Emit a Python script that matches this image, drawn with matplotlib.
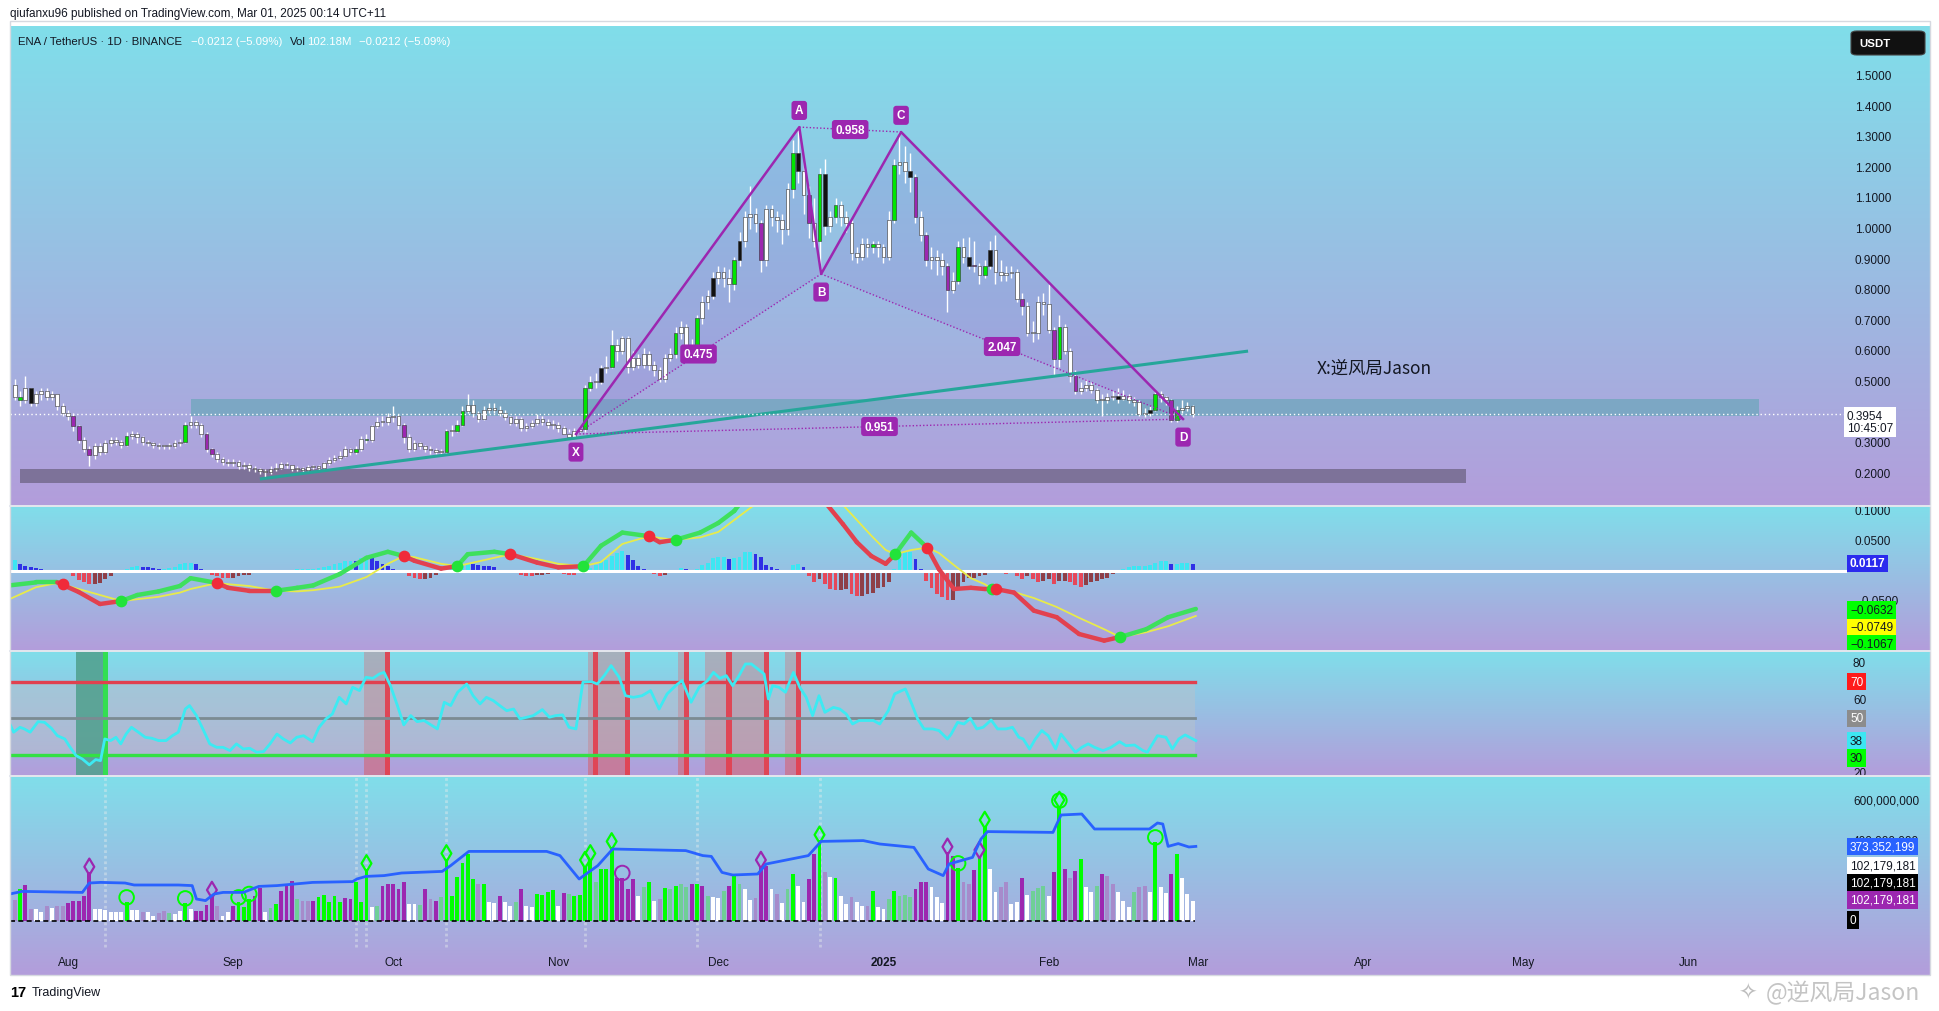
import numpy as np
import matplotlib.pyplot as plt
from matplotlib.collections import LineCollection
from matplotlib.colors import LinearSegmentedColormap
from matplotlib.patches import Rectangle, Polygon, FancyBboxPatch

plt.rcParams['font.family'] = ['Liberation Sans', 'DejaVu Sans']
CJK = ['Noto Sans CJK SC', 'DejaVu Sans']

# ---- daily candles, day 0 = 2024-08-01 ----
first_day = -10
first_open = 0.49
close = [0.45, 0.44, 0.48, 0.43, 0.46, 0.47, 0.45, 0.46, 0.42, 0.40,
         0.39, 0.355, 0.31, 0.28, 0.26, 0.29, 0.27, 0.30, 0.31, 0.305,
         0.295, 0.325, 0.33, 0.32, 0.305, 0.30, 0.295, 0.29, 0.29, 0.29,
         0.30, 0.305, 0.36, 0.37, 0.36, 0.33, 0.28, 0.265, 0.25, 0.24,
         0.235, 0.24, 0.225, 0.23, 0.22, 0.215, 0.21, 0.205, 0.215, 0.22,
         0.232, 0.228, 0.215, 0.218, 0.213, 0.222, 0.222, 0.22, 0.235, 0.245,
         0.252, 0.258, 0.28, 0.27, 0.28, 0.315, 0.31, 0.355, 0.37, 0.37,
         0.385, 0.39, 0.36, 0.32, 0.28, 0.30, 0.29, 0.28, 0.278, 0.272,
         0.27, 0.34, 0.34, 0.36, 0.405, 0.425, 0.40, 0.38, 0.41, 0.415,
         0.41, 0.40, 0.385, 0.365, 0.38, 0.35, 0.355, 0.365, 0.38, 0.37,
         0.36, 0.36, 0.35, 0.33, 0.32, 0.34, 0.345, 0.48, 0.50, 0.50,
         0.545, 0.55, 0.62, 0.60, 0.645, 0.55, 0.58, 0.555, 0.59, 0.555,
         0.54, 0.51, 0.58, 0.59, 0.66, 0.68, 0.62, 0.59, 0.71, 0.76,
         0.78, 0.84, 0.86, 0.84, 0.82, 0.90, 0.96, 1.04, 1.05, 1.02,
         0.90, 1.065, 1.04, 1.03, 1.00, 1.13, 1.25, 1.19, 1.11, 1.02,
         0.96, 1.18, 1.01, 1.04, 1.08, 1.04, 1.02, 0.92, 0.91, 0.95,
         0.94, 0.95, 0.94, 0.91, 1.03, 1.21, 1.22, 1.19, 1.17, 1.04,
         0.98, 0.90, 0.91, 0.90, 0.88, 0.80, 0.83, 0.94, 0.91, 0.88,
         0.88, 0.85, 0.88, 0.93, 0.86, 0.85, 0.855, 0.86, 0.77, 0.75,
         0.66, 0.66, 0.76, 0.755, 0.67, 0.575, 0.68, 0.60, 0.52, 0.47,
         0.48, 0.49, 0.475, 0.44, 0.44, 0.45, 0.455, 0.445, 0.455, 0.44,
         0.435, 0.395, 0.40, 0.41, 0.46, 0.45, 0.44, 0.375, 0.41, 0.415, 0.42, 0.3954]
high = [0.51, 0.47, 0.52, 0.48, 0.47, 0.48, 0.48, 0.47, 0.46, 0.43,
        0.41, 0.40, 0.36, 0.32, 0.29, 0.30, 0.30, 0.31, 0.32, 0.32,
        0.31, 0.335, 0.34, 0.335, 0.325, 0.31, 0.305, 0.30, 0.295, 0.30,
        0.31, 0.315, 0.37, 0.39, 0.375, 0.365, 0.335, 0.285, 0.27, 0.255,
        0.25, 0.25, 0.245, 0.24, 0.235, 0.225, 0.22, 0.215, 0.225, 0.235,
        0.24, 0.24, 0.23, 0.225, 0.222, 0.228, 0.23, 0.228, 0.24, 0.255,
        0.26, 0.275, 0.29, 0.285, 0.29, 0.325, 0.33, 0.36, 0.385, 0.39,
        0.40, 0.42, 0.395, 0.365, 0.33, 0.31, 0.305, 0.295, 0.29, 0.285,
        0.28, 0.345, 0.36, 0.375, 0.42, 0.46, 0.44, 0.405, 0.42, 0.43,
        0.43, 0.42, 0.41, 0.39, 0.39, 0.385, 0.365, 0.375, 0.395, 0.39,
        0.38, 0.375, 0.37, 0.355, 0.345, 0.35, 0.355, 0.49, 0.52, 0.53,
        0.555, 0.585, 0.67, 0.64, 0.65, 0.65, 0.60, 0.59, 0.61, 0.60,
        0.57, 0.55, 0.59, 0.61, 0.68, 0.70, 0.69, 0.64, 0.72, 0.78,
        0.80, 0.86, 0.88, 0.875, 0.87, 0.91, 0.99, 1.06, 1.14, 1.07,
        1.03, 1.08, 1.08, 1.06, 1.05, 1.15, 1.29, 1.333, 1.22, 1.14,
        1.10, 1.20, 1.23, 1.06, 1.10, 1.09, 1.06, 1.03, 0.94, 0.97,
        0.97, 0.96, 0.96, 0.95, 1.06, 1.23, 1.317, 1.27, 1.25, 1.18,
        1.06, 0.99, 0.94, 0.93, 0.92, 0.89, 0.86, 0.96, 0.97, 0.975,
        0.96, 0.89, 0.90, 0.96, 0.98, 0.90, 0.88, 0.88, 0.87, 0.79,
        0.76, 0.70, 0.78, 0.79, 0.82, 0.68, 0.72, 0.69, 0.61, 0.54,
        0.50, 0.51, 0.50, 0.48, 0.46, 0.465, 0.47, 0.48, 0.475, 0.46,
        0.45, 0.44, 0.415, 0.42, 0.47, 0.47, 0.455, 0.445, 0.42, 0.44, 0.435, 0.425]
low = [0.44, 0.42, 0.43, 0.42, 0.42, 0.44, 0.44, 0.44, 0.41, 0.39,
       0.375, 0.34, 0.30, 0.27, 0.225, 0.25, 0.26, 0.265, 0.29, 0.295,
       0.285, 0.29, 0.315, 0.30, 0.295, 0.29, 0.285, 0.28, 0.28, 0.28,
       0.285, 0.29, 0.30, 0.35, 0.35, 0.32, 0.27, 0.255, 0.24, 0.23,
       0.225, 0.225, 0.215, 0.215, 0.21, 0.205, 0.20, 0.19, 0.20, 0.21,
       0.215, 0.22, 0.21, 0.21, 0.205, 0.21, 0.215, 0.21, 0.215, 0.23,
       0.24, 0.245, 0.255, 0.26, 0.265, 0.275, 0.30, 0.305, 0.35, 0.355,
       0.36, 0.37, 0.345, 0.30, 0.27, 0.275, 0.28, 0.27, 0.265, 0.265,
       0.26, 0.265, 0.325, 0.335, 0.355, 0.40, 0.385, 0.37, 0.375, 0.40,
       0.40, 0.39, 0.375, 0.36, 0.355, 0.34, 0.34, 0.35, 0.36, 0.36,
       0.35, 0.345, 0.335, 0.33, 0.335, 0.33, 0.335, 0.335, 0.47, 0.48,
       0.495, 0.53, 0.545, 0.57, 0.59, 0.53, 0.54, 0.545, 0.545, 0.54,
       0.52, 0.50, 0.50, 0.57, 0.58, 0.64, 0.61, 0.58, 0.58, 0.69,
       0.74, 0.77, 0.82, 0.81, 0.76, 0.80, 0.88, 0.94, 1.00, 0.99,
       0.86, 0.88, 1.01, 0.99, 0.95, 0.98, 1.10, 1.15, 1.05, 0.97,
       0.94, 0.853, 0.98, 0.99, 1.02, 1.01, 0.99, 0.90, 0.89, 0.90,
       0.91, 0.92, 0.91, 0.89, 0.90, 1.02, 1.18, 1.15, 1.12, 1.02,
       0.96, 0.88, 0.87, 0.85, 0.85, 0.73, 0.79, 0.82, 0.89, 0.87,
       0.86, 0.82, 0.84, 0.87, 0.82, 0.83, 0.83, 0.84, 0.76, 0.72,
       0.65, 0.63, 0.64, 0.72, 0.66, 0.52, 0.55, 0.59, 0.50, 0.46,
       0.46, 0.47, 0.465, 0.43, 0.39, 0.43, 0.44, 0.43, 0.44, 0.43,
       0.42, 0.39, 0.385, 0.39, 0.405, 0.435, 0.425, 0.37, 0.37, 0.40, 0.405, 0.385]
candle_green_days = [-9, 11, 22, 54, 56, 71, 73, 74, 97, 98, 102, 114, 118, 125, 136,
                     141, 144, 151, 155, 167, 172, 186, 204, 208]
candle_purple_days = [1, 2, 4, 26, 27, 63, 130, 139, 159, 161, 165, 170, 179, 185, 189, 207]
candle_black_days = [-7, 100, 121, 126, 137, 142, 158, 169, 173, 197, 203]

# volume in millions and bar class (g green, p purple, w white, G pale green, P pale purple)
volume = [105, 160, 180, 60, 60, 45, 75, 65, 75, 75,
          90, 100, 100, 125, 243, 60, 60, 55, 43, 43,
          43, 93, 55, 55, 43, 43, 27, 40, 48, 40,
          35, 48, 88, 58, 52, 52, 78, 127, 77, 27,
          43, 77, 93, 68, 110, 127, 163, 43, 63, 85,
          150, 183, 200, 110, 102, 102, 102, 118, 130, 93,
          123, 93, 113, 110, 197, 93, 260, 68, 77, 177,
          185, 185, 160, 197, 85, 85, 80, 160, 110, 102,
          118, 310, 127, 218, 290, 335, 210, 185, 185, 93,
          88, 127, 93, 77, 93, 160, 77, 68, 135, 130,
          143, 157, 77, 140, 135, 127, 130, 277, 310, 193,
          260, 260, 370, 215, 215, 160, 210, 127, 168, 197,
          102, 112, 163, 160, 177, 185, 168, 185, 185, 177,
          127, 118, 113, 152, 177, 230, 185, 160, 107, 113,
          277, 277, 160, 135, 88, 160, 235, 177, 93, 210,
          335, 403, 243, 218, 213, 127, 85, 118, 93, 77,
          77, 152, 68, 60, 110, 152, 127, 130, 118, 160,
          193, 197, 168, 118, 90, 343, 327, 263, 193, 185,
          255, 327, 477, 260, 147, 168, 193, 85, 93, 213,
          130, 152, 163, 177, 123, 247, 577, 260, 213, 252,
          310, 168, 143, 177, 235, 227, 185, 143, 102, 68,
          143, 168, 173, 143, 393, 168, 140, 235, 335, 213, 135, 102]
vol_class = ("PgpPwwPwPP" "pppppwwwww" "wgwwPwwPPG" "wwgwppppPw"
             "wpgggppwGg" "pppGPPpggg" "ggppgggwGp" "ppppwwGpPp" "GggggggPgw"
             "wpwwGpwwgg" "ggwpGggggG" "gggppppwGg" "wPgGgGGpgp" "GwwGpgGwwP"
             "ppwPwGgwwp" "pgPwgwwPww" "PgwwGgGGGp" "ppwwwppgPP" "pggwwPPwwp"
             "wGGGwpgpPp" "gwwGpPPwww" "GPPwgwwpgw" "ww")
vol_diamond_green = [56, 71, 97, 98, 102, 141, 172, 186]
vol_diamond_purple = [4, 27, 130, 165, 171]
vol_circle_green = [11, 22, 32, 34, 167, 186, 204]
vol_circle_purple = [104]
vol_ma_pts = [(-10.9, 135), (-8.6, 148), (2.7, 143), (4.0, 190), (6.1, 193), (10.7, 190),
              (12.4, 180), (20.7, 180), (23.3, 177), (24.1, 110), (25.8, 102), (27.4, 135),
              (29.1, 143), (32.9, 143), (35.8, 173), (39.2, 177), (45.9, 193), (53.4, 197),
              (54.2, 210), (55.9, 223), (59.3, 227), (62.6, 240), (70.2, 248), (71.8, 277),
              (75.2, 348), (79.4, 348), (89.8, 348), (92.3, 327), (95.9, 210), (99.4, 277),
              (102.2, 360), (115.9, 352), (119.1, 327), (120.7, 323), (122.7, 243), (124.7, 230),
              (129.4, 235), (131.0, 285), (138.9, 327), (141.3, 398), (149.2, 402), (152.3, 385),
              (158.7, 368), (161.4, 260), (164.2, 227), (165.3, 285), (169.7, 318), (171.3, 410),
              (172.5, 447), (184.8, 443), (186.3, 530), (190.2, 535), (192.6, 460), (202.9, 460),
              (204.4, 490), (205.4, 485), (206.4, 373), (208.3, 387), (210.3, 370), (211.6, 373)]
vol_guides = [7, 54, 56, 71, 97, 118, 141]

# MACD: (day, macd, signal) and daily histogram
macd_pts = [(-11, -0.024, -0.047), (-6, -0.019, -0.027), (-2, -0.019, -0.020), (2, -0.035, -0.030),
            (6, -0.055, -0.040), (10, -0.050, -0.050), (13, -0.040, -0.047), (17, -0.034, -0.043),
            (21, -0.025, -0.036), (23, -0.012, -0.030), (28, -0.020, -0.020), (30, -0.028, -0.022),
            (34, -0.033, -0.025), (39, -0.033, -0.033), (43, -0.028, -0.034), (46, -0.024, -0.032),
            (51, -0.005, -0.026), (56, 0.022, -0.010), (60, 0.032, 0.012), (63, 0.025, 0.025),
            (65, 0.017, 0.023), (70, 0.004, 0.012), (73, 0.008, 0.008), (75, 0.028, 0.012),
            (80, 0.032, 0.022), (83, 0.028, 0.028), (88, 0.014, 0.020), (92, 0.006, 0.012),
            (96.7, 0.008, 0.008), (100, 0.042, 0.015), (104, 0.064, 0.045), (109, 0.058, 0.058),
            (111, 0.048, 0.055), (114, 0.052, 0.052), (118.6, 0.064, 0.056), (122, 0.080, 0.065),
            (125, 0.100, 0.085), (128, 0.135, 0.105), (132, 0.17, 0.13), (136, 0.18, 0.15),
            (139, 0.155, 0.155), (142, 0.115, 0.14), (145.4, 0.078, 0.11), (148, 0.048, 0.085),
            (150.7, 0.025, 0.059), (153.4, 0.012, 0.035), (155.2, 0.028, 0.028), (158.2, 0.064, 0.035),
            (161.2, 0.039, 0.039), (163.4, 0.003, 0.030), (166.2, -0.030, 0.010), (169.4, -0.028, -0.012),
            (172, -0.030, -0.022), (173.4, -0.030, -0.030), (174.1, -0.030, -0.030), (177.5, -0.036, -0.035),
            (181.2, -0.066, -0.045), (185.5, -0.077, -0.060), (189.7, -0.105, -0.078), (194.4, -0.116, -0.097),
            (197.4, -0.110, -0.110), (202.3, -0.097, -0.102), (206.4, -0.077, -0.092), (211.6, -0.0632, -0.0749)]
macd_cross_up = [(10, -0.050), (39, -0.033), (73, 0.008), (96.7, 0.008), (114, 0.052),
                 (155.2, 0.028), (173.4, -0.030), (197.4, -0.110)]
macd_cross_down = [(-1, -0.021), (28, -0.020), (63, 0.025), (83, 0.028), (109, 0.058),
                   (161.2, 0.039), (174.1, -0.030)]
hist = [0.019, 0.012, 0.008, 0.006, 0.005, 0.004, 0.002, 0.0, -0.001, -0.003,
        -0.004, -0.008, -0.015, -0.019, -0.022, -0.022, -0.020, -0.014, -0.008, -0.003,
        0.002, 0.004, 0.006, 0.008, 0.007, 0.006, 0.005, 0.004, 0.004, 0.005,
        0.007, 0.012, 0.014, 0.014, 0.012, 0.004, -0.003, -0.006, -0.008, -0.011,
        -0.012, -0.011, -0.009, -0.007, -0.006, -0.004, -0.003, -0.002, 0.001, 0.001,
        0.002, 0.002, 0.002, 0.003, 0.003, 0.003, 0.004, 0.005, 0.006, 0.008,
        0.011, 0.014, 0.016, 0.017, 0.016, 0.021, 0.022, 0.021, 0.017, 0.012,
        0.009, 0.004, 0.001, -0.003, -0.008, -0.012, -0.014, -0.014, -0.012, -0.006,
        -0.003, -0.001, 0.005, 0.009, 0.012, 0.013, 0.012, 0.010, 0.009, 0.008,
        0.006, 0.002, -0.002, -0.003, -0.004, -0.006, -0.008, -0.009, -0.007, -0.006,
        -0.005, -0.004, -0.004, -0.005, -0.006, -0.007, -0.004, 0.002, 0.005, 0.010,
        0.016, 0.018, 0.025, 0.030, 0.033, 0.027, 0.019, 0.009, 0.003, -0.002,
        -0.005, -0.009, -0.007, -0.003, 0.002, 0.005, 0.004, 0.002, 0.003, 0.010,
        0.014, 0.021, 0.023, 0.023, 0.020, 0.021, 0.024, 0.031, 0.031, 0.028,
        0.023, 0.010, 0.006, 0.003, -0.003, 0.0, 0.010, 0.011, 0.006, -0.008,
        -0.019, -0.013, -0.022, -0.030, -0.032, -0.031, -0.030, -0.038, -0.042, -0.041,
        -0.038, -0.036, -0.029, -0.026, -0.018, 0.003, 0.020, 0.031, 0.032, 0.020,
        0.003, -0.016, -0.029, -0.038, -0.044, -0.049, -0.048, -0.030, -0.019, -0.012,
        -0.011, -0.009, -0.007, -0.001, -0.002, -0.003, -0.005, -0.003, -0.009, -0.013,
        -0.009, -0.013, -0.019, -0.016, -0.014, -0.022, -0.016, -0.016, -0.018, -0.024,
        -0.026, -0.023, -0.019, -0.016, -0.013, -0.011, -0.005, 0.0, 0.003, 0.006,
        0.009, 0.009, 0.009, 0.010, 0.013, 0.016, 0.016, 0.012, 0.012, 0.013, 0.014, 0.0117]

# RSI nodes (day, value) and highlight bands (first day, last day)
rsi_pts = [(-10.9, 46.8), (-10.2, 42.3), (-9, 45.0), (-8.2, 44.1), (-7.1, 42.3), (-5.6, 48.1), (-4.4, 47.7),
           (-3.1, 44.4), (-2, 40.4), (-0.6, 38.6), (0.2, 34.9), (1.5, 29.5), (2.7, 27.6), (4, 24.4),
           (5.2, 27.3), (6.1, 26.7), (6.9, 38.6), (8, 37.7), (9, 39.5), (9.9, 35.9), (10.9, 41.3),
           (11.9, 45.0), (13.2, 42.3), (14.5, 39.5), (15.7, 39.0), (17, 37.7), (18.4, 37.7), (19.6, 40.4),
           (20.7, 42.3), (22, 55.0), (22.8, 56.9), (24.1, 51.4), (25.3, 44.1), (26.6, 35.9), (27.9, 34.0),
           (29.1, 34.0), (30.4, 32.2), (31.6, 35.9), (32.9, 33.1), (34.1, 33.5), (35.4, 31.3), (36.7, 31.7),
           (37.9, 35.9), (39.2, 41.3), (40.4, 38.6), (41.7, 36.4), (42.9, 39.5), (44.2, 40.4), (45.9, 37.1),
           (47.1, 45.0), (48.4, 49.6), (49.6, 52.3), (50.9, 61.4), (52.2, 57.8), (53.4, 66.9), (54.7, 65.1),
           (55.9, 72.4), (57.2, 71.8), (58.4, 74.2), (59.3, 75.1), (60.5, 67.8), (61.8, 56.9), (63, 46.3),
           (64.3, 51.4), (65.5, 48.1), (66.8, 48.7), (68.1, 46.3), (69.3, 44.1), (70.6, 58.7), (71.8, 56.9),
           (73.1, 64.2), (74.8, 68.7), (76, 62.3), (77.3, 57.8), (78.5, 61.4), (79.8, 59.6), (81, 56.9),
           (82.3, 54.1), (83.6, 55.0), (84.8, 49.6), (86.1, 50.5), (87.3, 51.4), (89, 54.7), (90.3, 50.5),
           (91.5, 51.4), (92.8, 51.8), (94, 45.0), (95.3, 44.1), (96.6, 69.7), (98.2, 70.0), (99.3, 68.7),
           (100.6, 73.3), (101.9, 78.8), (103.4, 72.4), (104.6, 62.3), (106.1, 61.4), (107.7, 62.3),
           (109.3, 65.1), (110.9, 55.0), (112.4, 63.3), (114, 67.8), (115.2, 70.6), (116.9, 58.7),
           (118.4, 66.9), (120, 70.6), (121.1, 75.1), (122.3, 71.8), (123.5, 73.3), (124.7, 67.8),
           (125.9, 73.3), (127.1, 79.7), (128.2, 79.7), (129.4, 77.0), (130.6, 74.2), (131.4, 60.5),
           (132.2, 67.8), (133.4, 66.9), (134.6, 64.2), (136.1, 75.1), (137.3, 66.9), (138.5, 61.4),
           (139.7, 51.4), (140.9, 62.3), (142, 53.2), (143.6, 55.9), (144.8, 55.0), (146, 52.3),
           (147.2, 46.8), (148.4, 48.7), (149.9, 48.7), (151.1, 48.7), (152.3, 46.8), (153.9, 54.1),
           (155.1, 63.3), (157.1, 66.0), (158.3, 57.8), (159.4, 49.6), (160.6, 44.1), (162.2, 44.1),
           (163.4, 43.2), (165, 38.6), (165.7, 41.3), (166.9, 47.7), (168.1, 46.8), (169.3, 49.9),
           (170.5, 44.1), (171.7, 45.0), (173.2, 49.0), (174.4, 44.1), (176, 44.1), (177.2, 45.0),
           (178.4, 39.5), (179.2, 38.6), (180.4, 33.1), (181.5, 38.6), (182.7, 43.2), (183.9, 40.4),
           (185.3, 33.1), (186.3, 41.3), (187.5, 36.8), (189, 31.3), (190.2, 34.0), (191.4, 35.9),
           (192.6, 34.0), (194.2, 32.2), (195.7, 34.0), (197.3, 37.1), (198.5, 34.9), (200.1, 35.3),
           (201.7, 32.2), (202.5, 31.3), (204.4, 40.4), (206, 39.5), (207.2, 33.1), (208.4, 38.6),
           (209.6, 40.8), (211.6, 37.7)]
rsi_os_bands = [(2, 7)]
rsi_ob_bands = [(56, 60), (98, 99), (100, 105), (115, 116), (120, 124), (125, 131), (135, 137)]

# harmonic pattern, trend line, zones
pattern_names = ['X', 'A', 'B', 'C', 'D']
pattern_days = [95.3, 137.2, 141.3, 156.3, 209.2]
pattern_prices = [0.330, 1.333, 0.853, 1.317, 0.379]
pattern_ratios = [('X', 'B', '0.475'), ('A', 'C', '0.958'), ('B', 'D', '2.047'), ('X', 'D', '0.951')]
trend_days = [36.0, 221.4]
trend_prices = [0.183, 0.601]
zone_resist = (23.1, 317.3, 0.388, 0.445)
zone_support = (-9.0, 262.3, 0.170, 0.216)
last_price = 0.3954

price_ticks = [1.5, 1.4, 1.3, 1.2, 1.1, 1.0, 0.9, 0.8, 0.7, 0.6, 0.5, 0.3, 0.2]
month_days = [0, 31, 61, 92, 122, 153, 184, 212, 243, 273, 304]
month_labels = ['Aug', 'Sep', 'Oct', 'Nov', 'Dec', '2025', 'Feb', 'Mar', 'Apr', 'May', 'Jun']

# ---------------- layout ----------------
W, H = 1940, 1012
X0, X1 = 10, 1930
PX_DAY, DAY0_PX = 5.33, 68
XMIN = (X0 - DAY0_PX) / PX_DAY
XMAX = (X1 - DAY0_PX) / PX_DAY
TXT = '#131722'
bg_cmap = LinearSegmentedColormap.from_list('bg', ['#80DEEA', '#B39DDB'])

fig = plt.figure(figsize=(W / 100, H / 100), dpi=100)
fig.patch.set_facecolor('white')


def fx(px):
    return (px - X0) / (X1 - X0)


def panel(top, bottom, ylim):
    ax = fig.add_axes([X0 / W, 1 - bottom / H, (X1 - X0) / W, (bottom - top) / H])
    ax.imshow(np.linspace(0, 1, 256).reshape(-1, 1), extent=[0, 1, 0, 1], transform=ax.transAxes,
              aspect='auto', cmap=bg_cmap, zorder=0)
    ax.set_xlim(XMIN, XMAX)
    ax.set_ylim(*ylim)
    ax.axis('off')
    return ax


def scale_label(ax, y, s, fc=None, color=TXT, bold=False, x=1853):
    kw = dict(transform=ax.get_yaxis_transform(), va='center', ha='left', fontsize=8.5,
              color=color, clip_on=True, zorder=20)
    if bold:
        kw['fontweight'] = 'bold'
    if fc is not None:
        kw['bbox'] = dict(boxstyle='square,pad=0.22', fc=fc, ec='none')
    return ax.text(fx(x), y, s, **kw)


ax_p = panel(27, 507, (0.0948, 1.6634))
ax_m = panel(507, 652, (-0.1333, 0.1083))
ax_r = panel(652, 777, (18.3, 86.8))
ax_v = panel(777, 976, (-270, 725))

days = np.arange(first_day, first_day + len(close))
close_a = np.array(close)
open_a = np.concatenate([[first_open], close_a[:-1]])

# ---------------- price panel ----------------
d0, d1, p0, p1 = zone_support
ax_p.add_patch(Rectangle((d0, p0), d1 - d0, p1 - p0, fc='#7D7299', ec='none', zorder=1))
d0, d1, p0, p1 = zone_resist
ax_p.add_patch(Rectangle((d0, p0), d1 - d0, p1 - p0, fc='#78A7C2', ec='none', alpha=0.9, zorder=1))

pt = dict(zip(pattern_names, zip(pattern_days, pattern_prices)))
for tri in (['X', 'A', 'B'], ['B', 'C', 'D']):
    ax_p.add_patch(Polygon([pt[n] for n in tri], closed=True, fc='#8A6FD0', ec='none', alpha=0.18, zorder=2))

body_col = []
for d in days:
    if d in candle_green_days:
        body_col.append('#00E600')
    elif d in candle_purple_days:
        body_col.append('#9C27B0')
    elif d in candle_black_days:
        body_col.append('#111111')
    else:
        body_col.append('#FFFFFF')
ax_p.vlines(days, low, high, color='white', lw=1.0, zorder=4)
body_lo = np.minimum(open_a, close_a)
body_h = np.maximum(np.abs(close_a - open_a), 0.004)
ax_p.bar(days, body_h, bottom=body_lo, width=0.7, color=body_col, edgecolor='#333333',
         linewidth=0.4, zorder=5)

ax_p.plot(trend_days, trend_prices, color='#26A69A', lw=2.2, zorder=6, solid_capstyle='butt')

order = ['X', 'A', 'B', 'C', 'D']
ax_p.plot([pt[n][0] for n in order], [pt[n][1] for n in order], color='#9C27B0', lw=1.8, zorder=7)
purple_box = dict(boxstyle='round,pad=0.3,rounding_size=0.25', fc='#9C27B0', ec='none')
for a, b, txt in pattern_ratios:
    (da, pa), (db, pb) = pt[a], pt[b]
    ax_p.plot([da, db], [pa, pb], color='#9C27B0', lw=1.0, ls=(0, (1, 1.5)), zorder=7)
    ax_p.text((da + db) / 2, (pa + pb) / 2, txt, ha='center', va='center', fontsize=8.5,
              color='white', fontweight='bold', bbox=purple_box, zorder=9)
for n, (d, p) in pt.items():
    off = 12 if n in ('A', 'C') else -13
    ax_p.annotate(n, (d, p), xytext=(0, off), textcoords='offset points', ha='center', va='center',
                  fontsize=8.5, color='white', fontweight='bold', bbox=purple_box, zorder=9)

ax_p.axhline(last_price, xmin=0, xmax=fx(1847), color='white', lw=1.0, ls=(0, (1, 2)), zorder=6)
ax_p.text(245, 0.546, 'X:逆风局Jason', family=CJK, fontsize=12.5, color=TXT, ha='center', va='center',
          zorder=9)

for v in price_ticks:
    scale_label(ax_p, v, f'{v:.4f}', x=1855)
ax_p.text(fx(1847), 0.3695, f'{last_price:.4f}\n10:45:07', transform=ax_p.get_yaxis_transform(),
          va='center', ha='left', fontsize=8.5, color=TXT, linespacing=1.05, zorder=21,
          bbox=dict(boxstyle='square,pad=0.25', fc='white', ec='none'))

# ---------------- MACD panel ----------------
hist_a = np.array(hist)
prev = np.concatenate([[hist_a[0]], hist_a[:-1]])
hcol = []
for h, p in zip(hist_a, prev):
    if h >= 0:
        hcol.append('#3DE6F2' if h >= p else '#2F2FE6')
    else:
        hcol.append('#E5485A' if h < p else '#8E3F48')
ax_m.bar(days, hist_a, width=0.72, color=hcol, zorder=3)
ax_m.axhline(0, xmin=0, xmax=fx(1845), color='white', lw=2.2, zorder=4)

md = np.array([p[0] for p in macd_pts])
mv = np.array([p[1] for p in macd_pts])
sv = np.array([p[2] for p in macd_pts])
ax_m.plot(md, sv, color='#E8EB4A', lw=1.3, zorder=5)
segs = [[(md[i], mv[i]), (md[i + 1], mv[i + 1])] for i in range(len(md) - 1)]
scol = ['#3EE05C' if (mv[i] - sv[i]) + (mv[i + 1] - sv[i + 1]) > 0 else '#E2414F' for i in range(len(md) - 1)]
ax_m.add_collection(LineCollection(segs, colors=scol, linewidths=3.2, capstyle='round', zorder=6))
ax_m.scatter([c[0] for c in macd_cross_up], [c[1] for c in macd_cross_up], s=55, color='#22E33A', zorder=7)
ax_m.scatter([c[0] for c in macd_cross_down], [c[1] for c in macd_cross_down], s=55, color='#F02B3A', zorder=7)

for v, s in [(0.1, '0.1000'), (0.05, '0.0500'), (-0.05, '\u22120.0500')]:
    scale_label(ax_m, v, s, x=1855)
scale_label(ax_m, 0.0125, '0.0117', fc='#2B2BEE', color='white', bold=True, x=1850)
scale_label(ax_m, -0.065, '\u22120.0632', fc='#00FF00', x=1850)
scale_label(ax_m, -0.0935, '\u22120.0749', fc='#FFFF00', x=1850)
scale_label(ax_m, -0.121, '\u22120.1067', fc='#00FF00', x=1850)

# ---------------- RSI panel ----------------
end_d = days[-1] + 0.5
ax_r.fill_between([XMIN, end_d], 30, 70, color='#B7C3CC', alpha=0.5, zorder=1, lw=0)
for a, b in rsi_ob_bands:
    ax_r.axvspan(a - 0.5, b - 0.5, color='#C48C98', alpha=0.55, zorder=2, lw=0)
    ax_r.fill_between([a - 0.5, b - 0.5], 18.3, 30, color='#D35F80', alpha=0.45, zorder=2, lw=0)
    ax_r.axvspan(b - 0.5, b + 0.5, color='#E2404F', alpha=0.95, zorder=2, lw=0)
for a, b in rsi_os_bands:
    ax_r.axvspan(a - 0.5, b - 0.5, color='#4F9F8C', alpha=0.85, zorder=2, lw=0)
    ax_r.axvspan(b - 0.5, b + 0.5, color='#2EE04A', alpha=0.95, zorder=2, lw=0)
ax_r.plot([XMIN, end_d], [70, 70], color='#E0414F', lw=2.4, zorder=3)
ax_r.plot([XMIN, end_d], [50, 50], color='#7C8B92', lw=2.0, zorder=3)
ax_r.plot([XMIN, end_d], [30, 30], color='#33E044', lw=2.4, zorder=3)
ax_r.plot([p[0] for p in rsi_pts], [p[1] for p in rsi_pts], color='#3DEAF2', lw=2.0, zorder=4)

for v in (80, 60, 20):
    scale_label(ax_r, v, str(v), x=1853)
scale_label(ax_r, 70, '70', fc='#FF1A1A', color='white', x=1850)
scale_label(ax_r, 50, '50', fc='#8C8C8C', color='white', x=1850)
scale_label(ax_r, 37.5, '38', fc='#3DE6F2', x=1850)
scale_label(ax_r, 28.2, '30', fc='#00FF00', x=1850)

# ---------------- volume panel ----------------
for g in vol_guides:
    ax_v.plot([g, g], [-130, 725], color='#E6ECEC', lw=2.0, ls=(0, (1, 1)), alpha=0.45, zorder=1)
vcol_map = {'g': '#00FF00', 'p': '#9C27B0', 'w': '#FFFFFF', 'G': '#6FCF97', 'P': '#A68BCB'}
ax_v.bar(days, volume, width=0.72, color=[vcol_map[c] for c in vol_class], zorder=3)
vol_a = dict(zip(days, volume))
ax_v.scatter(vol_diamond_green, [vol_a[d] + 28 for d in vol_diamond_green], marker='d', s=70,
             facecolors='none', edgecolors='#00FF00', linewidths=1.6, zorder=5)
ax_v.scatter(vol_diamond_purple, [vol_a[d] + 28 for d in vol_diamond_purple], marker='d', s=70,
             facecolors='none', edgecolors='#9C27B0', linewidths=1.6, zorder=5)
ax_v.scatter(vol_circle_green, [vol_a[d] + 25 for d in vol_circle_green], marker='o', s=110,
             facecolors='none', edgecolors='#00FF00', linewidths=1.4, zorder=5)
ax_v.scatter(vol_circle_purple, [vol_a[d] + 25 for d in vol_circle_purple], marker='o', s=110,
             facecolors='none', edgecolors='#9C27B0', linewidths=1.4, zorder=5)
ax_v.plot([p[0] for p in vol_ma_pts], [p[1] for p in vol_ma_pts], color='#2962FF', lw=2.0, zorder=6)
ax_v.plot([XMIN, end_d], [0, 0], color='black', lw=1.2, ls=(0, (3, 2)), zorder=6)

scale_label(ax_v, 600, '600,000,000', x=1853)
t400 = scale_label(ax_v, 400, '400,000,000', x=1853)
# only the top sliver of this label peeks out above the value boxes
t400.set_clip_path(Rectangle((fx(1840), 386), 0.1, 60, transform=ax_v.get_yaxis_transform()))
scale_label(ax_v, 373, '373,352,199', fc='#2962FF', color='white', x=1850)
scale_label(ax_v, 277, '102,179,181', fc='white', x=1850)
scale_label(ax_v, 190, '102,179,181', fc='black', color='white', x=1850)
scale_label(ax_v, 105, '102,179,181', fc='#9C27B0', color='white', x=1850)
scale_label(ax_v, 5, '0', fc='black', color='white', x=1850)

for d, s in zip(month_days, month_labels):
    ax_v.text(d, -205, s, ha='center', va='center', fontsize=8.5, color=TXT,
              fontweight='bold' if s == '2025' else 'normal', zorder=10)

# ---------------- frame, separators, header ----------------
for y in (507, 652, 777):
    fig.add_artist(plt.Line2D([X0 / W, X1 / W], [1 - y / H, 1 - y / H], color='#E4E7EE', lw=1.4))
fig.add_artist(Rectangle((X0 / W, 1 - 976 / H), (X1 - X0) / W, (976 - 22) / H, fill=False,
                         ec='#D6D9E0', lw=1.0))

fig.text(10 / W, 1 - 14 / H, 'qiufanxu96 published on TradingView.com, Mar 01, 2025 00:14 UTC+11',
         fontsize=8.5, color=TXT, va='center', ha='left')
legend_parts = [(18, 'ENA / TetherUS \u00b7 1D \u00b7 BINANCE', TXT), (191, '\u22120.0212 (\u22125.09%)', 'white'),
                (290, 'Vol', TXT), (307, '102.18M', 'white'), (359, '\u22120.0212 (\u22125.09%)', 'white')]
for x, s, c in legend_parts:
    fig.text(x / W, 1 - 42 / H, s, fontsize=8.2, color=c, va='center', ha='left')
fig.add_artist(FancyBboxPatch((1851 / W, 1 - 56 / H), 74 / W, 24 / H,
                              boxstyle='round,pad=0,rounding_size=0.003', fc='#111111', ec='#444444', lw=0.8))
fig.text(1859 / W, 1 - 44 / H, 'USDT', fontsize=8.2, color='white', va='center', ha='left',
         fontweight='bold')

fig.text(10 / W, 1 - 993 / H, '17', fontsize=10.5, fontweight='heavy', color='black', va='center', ha='left')
fig.text(32 / W, 1 - 993 / H, 'TradingView', fontsize=9, color=TXT, va='center', ha='left')
fig.text(1738 / W, 1 - 993 / H, '\u2727', family=CJK, fontsize=16, color='#BDBDBD', va='center', ha='left')
fig.text(1766 / W, 1 - 993 / H, '@逆风局Jason', family=CJK, fontsize=16.5, color='#C4C4C4', va='center',
         ha='left')

fig.savefig('out.png', dpi=100, facecolor='white')
